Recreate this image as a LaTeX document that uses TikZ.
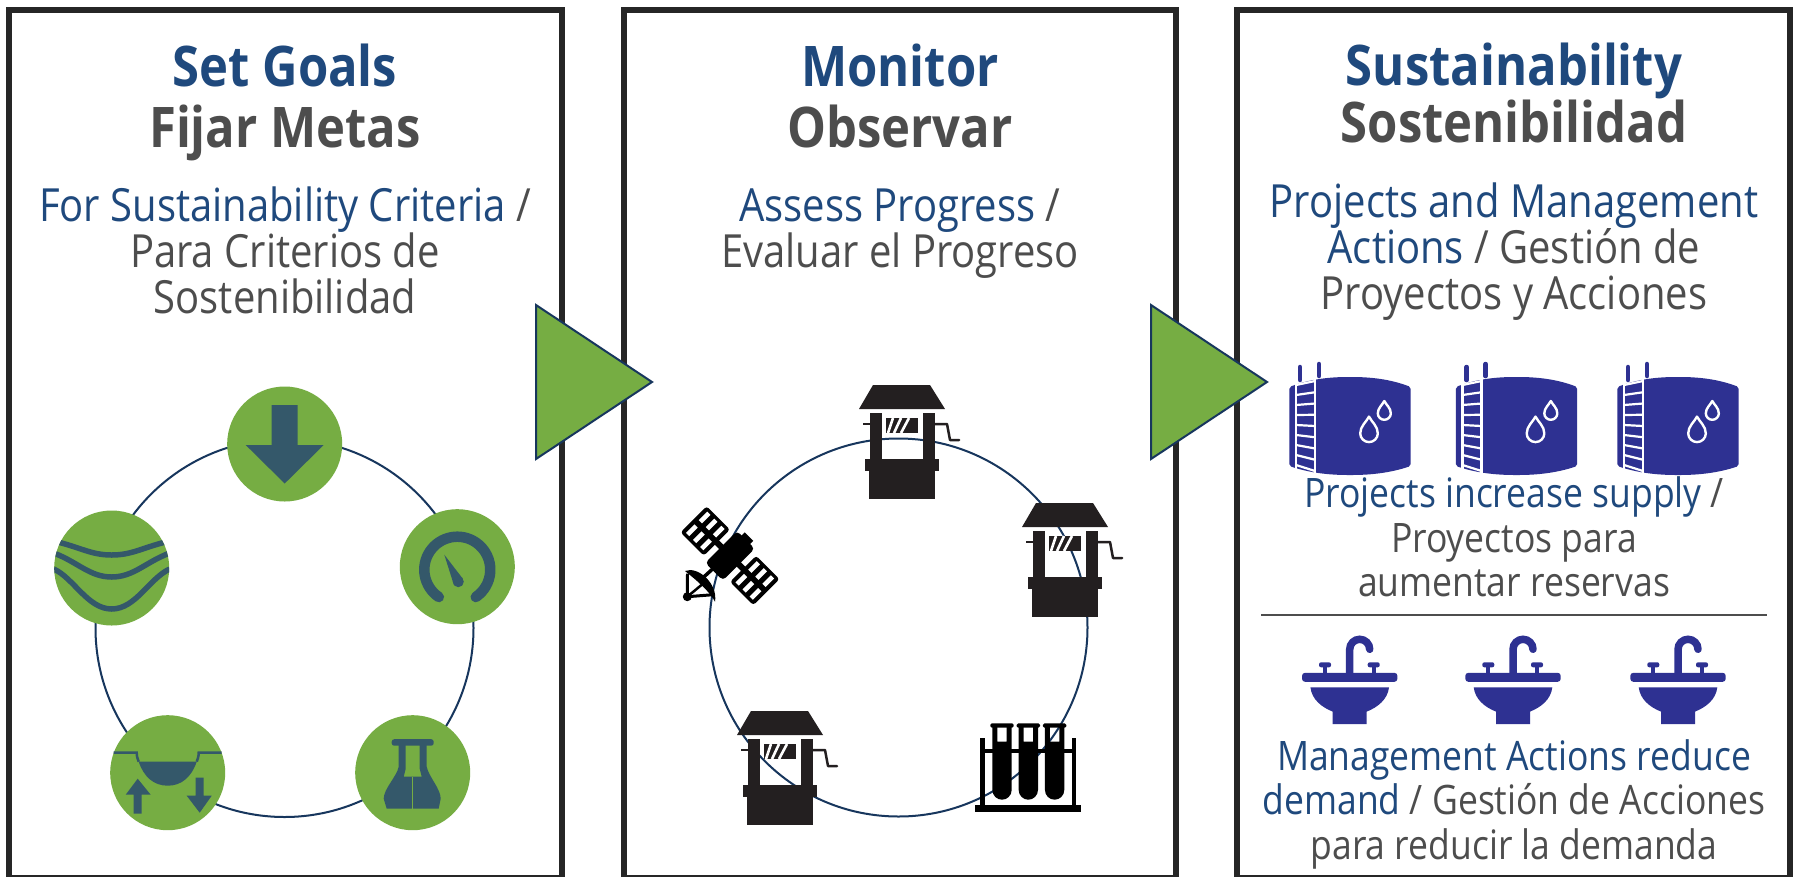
\documentclass[tikz,border=0pt]{standalone}
\usepackage{fontspec}
\setmainfont[FakeStretch=0.875]{Open Sans}
\usepackage{tikz}
\usetikzlibrary{positioning}
\definecolor{leafgreen}{HTML}{76AD43}
\definecolor{icondark}{HTML}{34586A}
\definecolor{ringnavy}{HTML}{17365D}
\definecolor{framedark}{HTML}{262626}
\definecolor{headblue}{HTML}{1F497D}
\definecolor{textgrey}{HTML}{4D4D4D}
\definecolor{wellblack}{HTML}{231F20}
\definecolor{tankblue}{HTML}{2E3192}
\begin{document}
\begin{tikzpicture}[
	x=1pt, y=-1pt,
	panelbox/.style={rectangle, draw=framedark, line width=6pt, outer sep=0pt, minimum width=552.5pt, minimum height=868pt},
	headtext/.style={align=center, inner sep=0pt, font=\fontsize{56}{52}\selectfont\bfseries},
	bodytext/.style={align=center, inner sep=0pt, font=\fontsize{45.7}{46}\selectfont},
	smalltext/.style={align=center, inner sep=0pt, font=\fontsize{40.6}{44.5}\selectfont},
	ringnode/.style={circle, draw=ringnavy, line width=2pt, minimum size=378pt, inner sep=0pt},
	iconnode/.style={circle, fill=leafgreen, minimum size=115pt, inner sep=0pt},
	flowarrow/.style={draw=ringnavy, fill=leafgreen, line width=2pt, line join=miter},
	downicon/.pic={
		\fill[icondark] (-13,-39) -- (13,-39) -- (13,1) -- (39,1) -- (0,39.5) -- (-39,1) -- (-13,1) -- cycle;
	},
	gaugeicon/.pic={
		\draw[icondark, line width=10.5pt, line cap=round] ([shift={(124:33)}]0,3) arc[start angle=124, end angle=416, radius=33];
		\fill[icondark] (-13,-12) -- (5.5,12) -- (-3.5,18) -- cycle;
		\fill[icondark] (1,15) circle[radius=5.5];
	},
	flaskicon/.pic={
		\fill[icondark, rounded corners=2.5pt] (-21,-33.5) rectangle (21,-27);
		\fill[icondark, even odd rule] (-14,-28) -- (-14,-6) .. controls (-16,4) and (-29,16) .. (-29,26) -- (-26,36) -- (26,36) -- (28,26) .. controls (28,16) and (16,4) .. (14,-6) -- (14,-28) -- cycle
			(-7,-28) -- (-7,-4) -- (-9,4) -- (9,4) -- (7,-4) -- (7,-28) -- cycle;
		\draw[leafgreen, line width=0.7pt] (0,4) -- (0,36);
	},
	basinicon/.pic={
		\fill[icondark] (-29,-11) .. controls (-24,4) and (-14,13) .. (0,13) .. controls (14,13) and (24,4) .. (29,-11) -- cycle;
		\draw[icondark, line width=2.5pt] (-54,-20) -- (-31,-20) .. controls (-31,-16) and (-30,-14) .. (-29,-11);
		\draw[icondark, line width=2.5pt] (54,-20) -- (31,-20) .. controls (31,-16) and (30,-14) .. (29,-11);
		\fill[icondark] (-34,41) -- (-26,41) -- (-26,22) -- (-17,22) -- (-30,6) -- (-42,22) -- (-34,22) -- cycle;
		\fill[icondark] (28,5) -- (36,5) -- (36,23) -- (44,23) -- (32,40) -- (19,23) -- (28,23) -- cycle;
	},
	waveicon/.pic={
		\begin{scope}
			\clip (0,0) circle[radius=57.5];
			\draw[icondark, line width=5.5pt] (-54,-26) .. controls (-30,-20) and (-20,-13) .. (0,-13) .. controls (20,-13) and (30,-20) .. (54,-26);
			\draw[icondark, line width=5.5pt] (-58,-15) .. controls (-34,-6) and (-22,9) .. (0,9) .. controls (22,9) and (34,-6) .. (58,-15);
			\draw[icondark, line width=5.5pt] (-58,1) .. controls (-38,10) and (-24,41) .. (0,41) .. controls (24,41) and (38,10) .. (58,1);
		\end{scope}
	},
	wellicon/.pic={
		\fill[wellblack] (-29,-57) -- (28,-57) -- (43,-33) -- (-43,-33) -- cycle;
		\fill[wellblack] (-32,-29) rectangle (-20,17);
		\fill[wellblack] (21,-29) rectangle (33,17);
		\fill[wellblack] (-16,-24) rectangle (16,-9);
		\fill[wellblack] (-37,17) rectangle (37,29);
		\fill[wellblack] (-33,29) rectangle (33,57);
		\draw[white, line width=2.6pt] (-14,-9) -- (-9,-24);
		\draw[white, line width=2.6pt] (-8,-9) -- (-1,-24);
		\draw[white, line width=2.6pt] (-1,-9) -- (7,-24);
		\draw[wellblack, line width=2.5pt] (-39,-18) -- (-32,-18);
		\draw[wellblack, line width=2.5pt, line join=round, line cap=round] (33,-18) -- (45,-18) -- (48,-2) -- (57,-2);
	},
	tubesicon/.pic={
		\fill[black] (-53,37) rectangle (53,44);
		\fill[black] (-48,-30) rectangle (-43.7,37);
		\fill[black] (43.7,-30) rectangle (48,37);
		\fill[black] (-48,-19) rectangle (48,-14.3);
		\foreach \tubex in {-26.3,0,26.3}{
			\fill[black, rounded corners=1.5pt] (\tubex-11.7,-44.3) rectangle (\tubex+11.7,-40);
			\fill[black, even odd rule] (\tubex-9.7,-41) -- (\tubex+9.7,-41) -- (\tubex+9.7,22) .. controls (\tubex+9.7,28) and (\tubex+5,32) .. (\tubex,32) .. controls (\tubex-5,32) and (\tubex-9.7,28) .. (\tubex-9.7,22) -- cycle
				(\tubex-4.7,-41) -- (\tubex+4.7,-41) -- (\tubex+4.7,-26) -- (\tubex-4.7,-26) -- cycle;
		}
	},
	satelliteicon/.pic={
		\fill[black] (-45,15.3) .. controls (-32,10) and (-12,28) .. (-15,46) .. controls (-20,36) and (-34,24) .. cycle;
		\fill[black] (-42.7,41) circle[radius=4.5];
		\draw[black, line width=3pt] (-42.7,41) -- (-42.5,18);
		\draw[black, line width=3pt] (-42.7,41) -- (-17,39);
		\draw[black, line width=2.5pt] (-42.7,41) -- (-27,28);
		\draw[black, line width=3.5pt] (-27,22) -- (-16,12);
		\begin{scope}[rotate=-45]
			\fill[black, rounded corners=4pt] (-12.5,-22.5) rectangle (12.5,22.5);
			\fill[black] (-6,-27) rectangle (6,-21);
			\fill[black] (-22,-3) rectangle (22,3);
			\foreach \panelu in {-35,35}{
				\fill[black, rounded corners=3pt] (\panelu-16.5,-18.5) rectangle (\panelu+16.5,18.5);
				\foreach \holeu in {-10,0,10}{
					\foreach \holev in {-9,9}{
						\fill[white] (\panelu+\holeu-2.3,\holev-6) rectangle (\panelu+\holeu+2.3,\holev+6);
					}
				}
			}
		\end{scope}
	},
	tankicon/.pic={
		\fill[tankblue, rounded corners=2pt] (-60.7,-39) .. controls (-40,-47) and (-20,-49) .. (0,-49) .. controls (20,-49) and (40,-47) .. (60.7,-39) -- (60.7,40) .. controls (40,47) and (20,49) .. (0,49) .. controls (-20,49) and (-40,47) .. (-60.7,40) -- cycle;
		\draw[white, line width=2.6pt] (-54,-48) -- (-54,48);
		\draw[white, line width=2.6pt] (-35,-52) -- (-35,52);
		\foreach \rung in {0,...,8}{
			\draw[white, line width=2.2pt] (-54,-41+10*\rung) -- (-35,-45+11.25*\rung);
		}
		\draw[tankblue, line width=4.5pt, line cap=round] (-50,-59) -- (-50,-46);
		\draw[tankblue, line width=4.5pt, line cap=round] (-31,-62) -- (-31,-50);
		\foreach \dropx/\dropy/\dropr in {19/7.3/8.8, 34.3/-12.7/6.5}{
			\begin{scope}[shift={(\dropx,\dropy)}, scale=\dropr]
				\draw[white, line width=2.4pt, line join=round] (0,-1.9) .. controls (0.3,-1.3) and (1,-0.8) .. (1,0) arc[start angle=0, end angle=180, radius=1] .. controls (-1,-0.8) and (-0.3,-1.3) .. cycle;
			\end{scope}
		}
	},
	sinkicon/.pic={
		\fill[tankblue, rounded corners=3pt] (-47.7,-4.5) rectangle (47.7,4.5);
		\fill[tankblue] (-39.3,10) -- (39.3,10) .. controls (38,22) and (28,30) .. (17,34.3) -- (17,46.7) -- (-17,46.7) -- (-17,34.3) .. controls (-28,30) and (-38,22) .. cycle;
		\draw[tankblue, line width=7.5pt, line cap=round] (0,-3) -- (0,-28) arc[start angle=180, end angle=360, radius=10];
		\draw[tankblue, line width=4pt] (-24.7,-4) -- (-24.7,-12);
		\draw[tankblue, line width=4pt] (24,-4) -- (24,-12);
		\fill[tankblue, rounded corners=2pt] (-30.7,-15) rectangle (-18.7,-10);
		\fill[tankblue, rounded corners=2pt] (18,-15) rectangle (30,-10);
	},
	]
	\useasboundingbox[fill=white] (0,0) rectangle (1798,876);
	%Panels
	\node[panelbox]      (goalpanel)      at (285.25,443.5) {};
	\node[panelbox]      (monitorpanel)   [right=62pt of goalpanel] {};
	\node[panelbox]      (sustainpanel)   [right=61pt of monitorpanel] {};
	
	%Titles
	\node[headtext]      (goalhead)       at (285,102) {\textcolor{headblue}{Set Goals}\\[9pt]\textcolor{textgrey}{Fijar Metas}};
	\node[headtext]      (monitorhead)    at (900,96) {\textcolor{headblue}{Monitor}\\[9pt]\textcolor{textgrey}{Observar}};
	\node[headtext]      (sustainhead)    at (1514,92.5) {\textcolor{headblue}{Sustainability}\\\textcolor{textgrey}{Sostenibilidad}};
	\node[bodytext]      (goalnote)       at (285,250) {\textcolor{headblue}{For Sustainability Criteria} \textcolor{textgrey}{/}\\\textcolor{textgrey}{Para Criterios de}\\\textcolor{textgrey}{Sostenibilidad}};
	\node[bodytext]      (monitornote)    at (900,233.5) {\textcolor{headblue}{Assess Progress} \textcolor{textgrey}{/}\\\textcolor{textgrey}{Evaluar el Progreso}};
	\node[bodytext]      (sustainnote)    at (1514,251.5) {\textcolor{headblue}{Projects and Management}\\\textcolor{headblue}{Actions} \textcolor{textgrey}{/ Gestión de}\\\textcolor{textgrey}{Proyectos y Acciones}};
	\node[smalltext]     (supplynote)     at (1514,537) {\textcolor{headblue}{Projects increase supply} \textcolor{textgrey}{/}\\\textcolor{textgrey}{Proyectos para}\\\textcolor{textgrey}{aumentar reservas}};
	\node[smalltext]     (demandnote)     at (1514,804) {\textcolor{headblue}{Management Actions reduce}\\\textcolor{headblue}{demand} \textcolor{textgrey}{/ Gestión de Acciones}\\\textcolor{textgrey}{para reducir la demanda}};
	
	%Rings
	\node[ringnode]      (goalring)       at (284.5,628) {};
	\node[ringnode]      (monitorring)    at (898.5,627.5) {};
	
	%Goal icons
	\node[iconnode]      (topicon)        at (284.7,444) {};
	\node[iconnode]      (righticon)      at (457.3,566.7) {};
	\node[iconnode]      (lefticon)       at (111.7,568) {};
	\node[iconnode]      (basinnode)      at (167.7,772.7) {};
	\node[iconnode]      (flasknode)      at (412.7,772.7) {};
	\pic (downmark)  at (topicon)   {downicon};
	\pic (gaugemark) at (righticon) {gaugeicon};
	\pic (wavemark)  at (lefticon)  {waveicon};
	\pic (basinmark) at (basinnode) {basinicon};
	\pic (flaskmark) at (flasknode) {flaskicon};
	
	%Monitor icons
	\pic (wellone)   at (902,442)     {wellicon};
	\pic (welltwo)   at (1065,560)    {wellicon};
	\pic (wellthree) at (780,768)     {wellicon};
	\pic (tubes)     at (1028.3,767.7) {tubesicon};
	\pic (satellite) at (730,555.7)   {satelliteicon};
	
	%Sustainability icons
	\foreach \tankx/\tankname in {1350/tankone, 1516.5/tanktwo, 1678/tankthree}{
		\pic (\tankname) at (\tankx,426) {tankicon};
	}
	\foreach \sinkx/\sinkname in {1349.7/sinkone, 1513/sinktwo, 1678/sinkthree}{
		\pic (\sinkname) at (\sinkx,677.3) {sinkicon};
	}
	\coordinate (ruleleft)  at (1261,615);
	\coordinate (ruleright) at (1767,615);
	\draw[textgrey, line width=1.5pt] (ruleleft) -- (ruleright);
	
	%Arrows
	\draw[flowarrow] (536,305) -- (652,382) -- (536,459) -- cycle;
	\draw[flowarrow] (1151,305) -- (1267,382) -- (1151,459) -- cycle;
\end{tikzpicture}
\end{document}
